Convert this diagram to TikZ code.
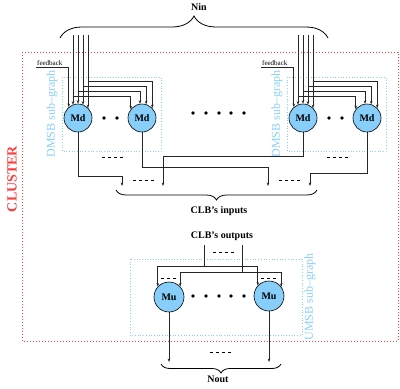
\documentclass[tikz,border=0pt]{standalone}
\usepackage{fontspec}
\setmainfont{Liberation Serif}
\usetikzlibrary{arrows.meta,decorations.pathreplacing}
\definecolor{skyfill}{RGB}{135,206,250}
\definecolor{clusterred}{RGB}{255,60,60}

\tikzset{
	>={Stealth[length=3.5pt,width=2.6pt]},
	wire/.style = {line width=0.65pt, draw=black!85},
	mnode/.style = {circle, draw, line width=0.6pt, fill=skyfill, minimum size=28pt, inner sep=0pt, font=\bfseries},
	subgraph/.style = {draw=skyfill, dotted, line width=0.7pt},
	sublabel/.style = {rotate=90, text=skyfill, font=\fontsize{12}{14}\selectfont},
	lbl/.style = {font=\bfseries},
	etc/.style = {dash pattern=on 3pt off 3pt, line width=0.6pt},
	bracewire/.style = {decorate, decoration={brace, amplitude=#1}, line width=0.8pt},
}

\begin{document}
\begin{tikzpicture}[x=1pt,y=-1pt]
	\useasboundingbox (0,0) rectangle (400,389);
	% cluster
	\draw[clusterred, dotted, line width=1pt] (22,52) rectangle (398,341);
	\node[rotate=90, text=clusterred, font=\fontsize{14}{16}\selectfont\bfseries] (cluster) at (12,179) {CLUSTER};

	% Nin
	\draw[bracewire=22pt] (60,38) -- (328,38);
	\node[lbl] (nin) at (199,7) {Nin};

	% DMSB sub-graphs
	\foreach \g/\dx in {A/0,B/225}{
		\draw[subgraph] (62+\dx,77) rectangle (161+\dx,151);
		\node[sublabel] (dmsb\g) at (52+\dx,114) {DMSB sub--graph};
		\node[mnode] (md\g1) at (78+\dx,118) {Md};
		\node[mnode] (md\g2) at (142+\dx,118) {Md};
		\fill (104+\dx,118) circle (1.8) (117+\dx,118) circle (1.8);
		\node[font=\scriptsize, anchor=south west, inner sep=1pt] (fb\g) at (36+\dx,67) {feedback};
		\draw[wire,->] (fb\g.south west) -| (md\g1.130);
		\foreach \i/\x/\a/\b/\y in {1/73/111/142/96, 2/78/90/98/91, 3/83/69/73/86, 4/88/44/44/81}{
			\coordinate (in\g\i) at (\x+\dx,35);
			\draw[wire,->] (in\g\i) -- (in\g\i |- md\g1.\a);
			\draw[wire,->] (in\g\i |- 0,\y) -| (md\g2.\b);
		}
	}
	\foreach \x in {193,206,219,231,244}
		\fill (\x,113) circle (1.8);

	% CLB's inputs
	\coordinate (clb1) at (122,186);
	\coordinate (clb2) at (163,186);
	\coordinate (clb3) at (268,186);
	\coordinate (clb4) at (310,186);
	\draw[wire,->] (mdA1.south) |- (clb1 |- 0,176) -- (clb1);
	\draw[wire,->] (mdA2.south) |- (clb3 |- 0,167) -- (clb3);
	\draw[wire,->] (mdB1.south) |- (clb2 |- 0,156) -- (clb2);
	\draw[wire,->] (mdB2.south) |- (clb4 |- 0,173) -- (clb4);
	\draw[etc] (102,157) -- (123,157);
	\draw[etc] (133,180) -- (154,180);
	\draw[etc] (279,180) -- (300,180);
	\draw[etc] (327,157) -- (348,157);
	\draw[bracewire=10pt] (317,190) -- (116,190);
	\node[lbl] (clbin) at (219,211) {CLB's inputs};

	% UMSB sub-graph
	\node[lbl] (clbout) at (222,236) {CLB's outputs};
	\draw[subgraph] (130,259) rectangle (302,335);
	\node[sublabel] (umsb) at (310,297) {UMSB sub--graph};
	\node[mnode, minimum size=30pt] (muA) at (169,297) {Mu};
	\node[mnode, minimum size=30pt] (muB) at (269,296) {Mu};
	\foreach \x in {193,206,219,231,244}
		\fill (\x,296) circle (1.8);
	\coordinate (out1) at (204,245);
	\coordinate (out2) at (242,245);
	\draw[wire] (out1) -- (out1 |- 0,266);
	\draw[wire,->] (out1 |- 0,266) -| (muA.137);
	\draw[wire,->] (out1 |- 0,266) -| (muB.137);
	\draw[wire] (out2) -- (out2 |- 0,272);
	\draw[wire,->] (out2 |- 0,272) -| (muA.43);
	\draw[wire,->] (out2 |- 0,272) -| (muB.37);
	\draw[etc] (213,252) -- (234,252);
	\draw[etc] (161,278) -- (177,278);
	\draw[etc] (261,278) -- (278,278);

	% Nout
	\coordinate (nout1) at (169,362);
	\coordinate (nout2) at (269,362);
	\draw[wire,->] (muA.south) -- (nout1);
	\draw[wire,->] (muB.south) -- (nout2);
	\draw[etc] (210,352) -- (231,352);
	\draw[bracewire=9pt] (281,364) -- (161,364);
	\node[lbl] (nout) at (218,379) {Nout};
\end{tikzpicture}
\end{document}
